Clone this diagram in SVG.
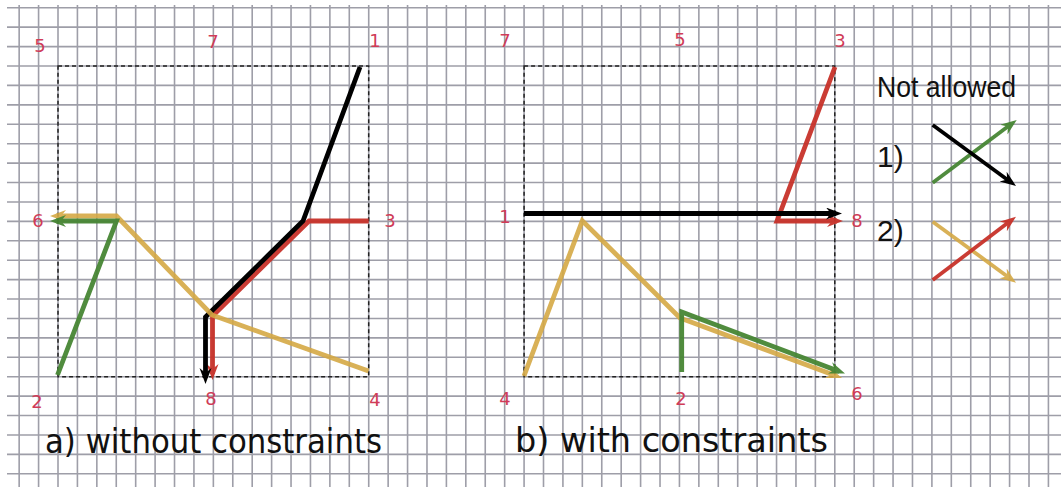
<svg xmlns="http://www.w3.org/2000/svg" width="1061" height="487" viewBox="0 0 1061 487">
<style>
.grid{stroke:#9e9ea8;stroke-width:1.6;fill:none}
.frame{fill:none;stroke:#222;stroke-width:1.5;stroke-dasharray:4 3}
.ln{fill:none;stroke-width:4.8;stroke-linejoin:miter;stroke-linecap:butt}
.lg{fill:none;stroke-width:3.8;stroke-linecap:butt}
.k{stroke:#000}
.r{stroke:#c8322a;opacity:0.95}
.y{stroke:#d5a945;opacity:0.9}
.g{stroke:#478634;opacity:0.95}
.lab{font-family:"DejaVu Sans",Verdana,sans-serif;font-size:18px;fill:#d03c58;text-anchor:middle}
.cap{font-family:"DejaVu Sans",Verdana,sans-serif;font-size:33px;fill:#111}
.leg{font-family:"Liberation Sans",Arial,sans-serif;font-size:30px;fill:#111}
</style>
<defs>
<marker id="ak" markerUnits="userSpaceOnUse" markerWidth="18" markerHeight="14" refX="10" refY="6" orient="auto"><path d="M0,0 L16,6 L0,12 L5,6 z" fill="#000"/></marker>
<marker id="ar" markerUnits="userSpaceOnUse" markerWidth="18" markerHeight="14" refX="10" refY="6" orient="auto"><path d="M0,0 L16,6 L0,12 L5,6 z" fill="#c8322a"/></marker>
<marker id="ay" markerUnits="userSpaceOnUse" markerWidth="18" markerHeight="14" refX="10" refY="6" orient="auto"><path d="M0,0 L16,6 L0,12 L5,6 z" fill="#d5a945"/></marker>
<marker id="ag" markerUnits="userSpaceOnUse" markerWidth="18" markerHeight="14" refX="10" refY="6" orient="auto"><path d="M0,0 L16,6 L0,12 L5,6 z" fill="#478634"/></marker>
</defs>
<rect width="1061" height="487" fill="#fff"/>
<g id="grid">
<path class="grid" d="M19.16 5V487M38.58 5V487M58 5V487M77.42 5V487M96.84 5V487M116.26 5V487M135.68 5V487M155.1 5V487M174.52 5V487M193.94 5V487M213.36 5V487M232.78 5V487M252.2 5V487M271.62 5V487M291.04 5V487M310.46 5V487M329.88 5V487M349.3 5V487M368.72 5V487M388.14 5V487M407.56 5V487M426.98 5V487M446.4 5V487M465.82 5V487M485.24 5V487M504.66 5V487M524.08 5V487M543.5 5V487M562.92 5V487M582.34 5V487M601.76 5V487M621.18 5V487M640.6 5V487M660.02 5V487M679.44 5V487M698.86 5V487M718.28 5V487M737.7 5V487M757.12 5V487M776.54 5V487M795.96 5V487M815.38 5V487M834.8 5V487M854.22 5V487M873.64 5V487M893.06 5V487M912.48 5V487M931.9 5V487M951.32 5V487M970.74 5V487M990.16 5V487M1009.58 5V487M1029 5V487M1048.42 5V487"/>
<path class="grid" d="M7 7.74H1061M7 27.16H1061M7 46.58H1061M7 66H1061M7 85.42H1061M7 104.84H1061M7 124.26H1061M7 143.68H1061M7 163.1H1061M7 182.52H1061M7 201.94H1061M7 221.36H1061M7 240.78H1061M7 260.2H1061M7 279.62H1061M7 299.04H1061M7 318.46H1061M7 337.88H1061M7 357.3H1061M7 376.72H1061M7 396.14H1061M7 415.56H1061M7 434.98H1061M7 454.4H1061M7 473.82H1061"/>
</g>
<g id="frame-a"><rect class="frame" x="58" y="66" width="310.7" height="310.7"/></g>
<g id="frame-b"><rect class="frame" x="524.08" y="66" width="310.7" height="310.7"/></g>
<g id="labels-a">
<text class="lab" x="40" y="52">5</text>
<text class="lab" x="213" y="48">7</text>
<text class="lab" x="375" y="47">1</text>
<text class="lab" x="38" y="227">6</text>
<text class="lab" x="390" y="227">3</text>
<text class="lab" x="37" y="408">2</text>
<text class="lab" x="211" y="405">8</text>
<text class="lab" x="375" y="406">4</text>
</g>
<g id="labels-b">
<text class="lab" x="505" y="47">7</text>
<text class="lab" x="680" y="46">5</text>
<text class="lab" x="840" y="47">3</text>
<text class="lab" x="505" y="223">1</text>
<text class="lab" x="857" y="227">8</text>
<text class="lab" x="505" y="405">4</text>
<text class="lab" x="681" y="405">2</text>
<text class="lab" x="857" y="400">6</text>
</g>
<g id="connectors">
<path class="ln r" d="M368.7 221 L309 221 L212.5 316 L212.5 374" marker-end="url(#ar)"/>
<path class="ln k" d="M360 67 L303 221 L205.5 317 L205.5 378" marker-end="url(#ak)"/>
<path class="ln y" d="M368.5 371 L212 315 L116.5 216 L56 216" marker-end="url(#ay)"/>
<path class="ln g" d="M57.5 375 L116.5 221 L56 221" marker-end="url(#ag)"/>
<path class="ln r" d="M835 67 L777 221 L837 221" marker-end="url(#ar)"/>
<path class="ln k" d="M524 213.5 L836 213.5" marker-end="url(#ak)"/>
<path class="ln y" d="M524 376 L582.3 220.7 L680 318 L836.4 375.9" marker-end="url(#ay)"/>
<path class="ln g" d="M681.7 372 L681.7 312 L839.4 371.4" marker-end="url(#ag)"/>
<path class="lg g" d="M932.7 182.7 L1011.9 123.6" marker-end="url(#ag)"/>
<path class="lg k" d="M932.7 125 L1011.2 182.5" marker-end="url(#ak)"/>
<path class="lg y" d="M932.7 221.7 L1011.2 279.2" marker-end="url(#ay)"/>
<path class="lg r" d="M932.7 280 L1011.2 220.3" marker-end="url(#ar)"/>
</g>
<g id="legend">
<text class="leg" x="877" y="97" textLength="139" lengthAdjust="spacingAndGlyphs">Not allowed</text>
<text class="leg" x="877" y="167">1)</text>
<text class="leg" x="877" y="241">2)</text>
</g>
<g id="captions">
<text class="cap" x="45" y="453" textLength="337" lengthAdjust="spacingAndGlyphs">a) without constraints</text>
<text class="cap" x="515" y="452" textLength="313" lengthAdjust="spacingAndGlyphs">b) with constraints</text>
</g>
</svg>
